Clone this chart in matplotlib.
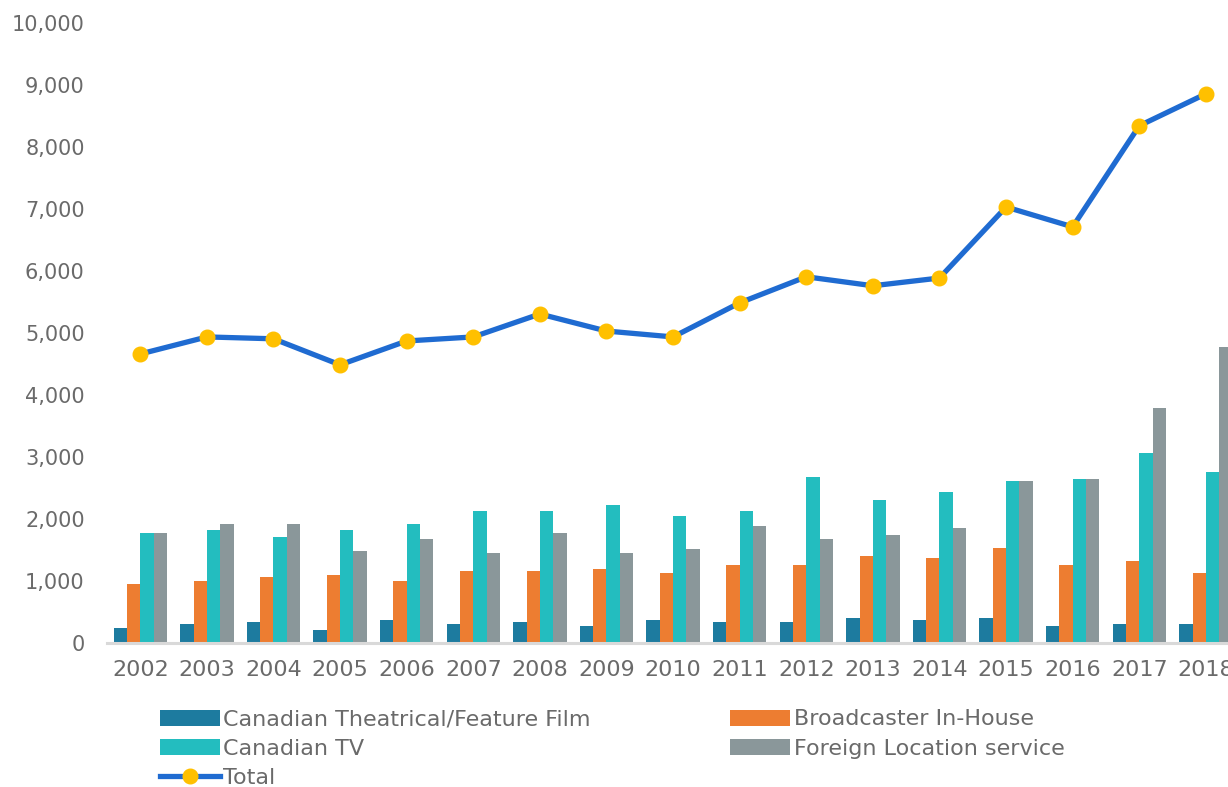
import matplotlib
matplotlib.use("Agg")
import matplotlib.pyplot as plt
import numpy as np

# data
years = ["2002", "2003", "2004", "2005", "2006", "2007", "2008", "2009", "2010",
         "2011", "2012", "2013", "2014", "2015", "2016", "2017", "2018"]
film = [240, 300, 340, 210, 370, 300, 340, 270, 370, 340, 340, 400, 370, 400, 270, 300, 300]
broadcaster = [950, 1000, 1065, 1100, 1000, 1160, 1160, 1195, 1130, 1260, 1260, 1400, 1370, 1530, 1260, 1320, 1130]
canadian_tv = [1775, 1820, 1710, 1820, 1920, 2130, 2130, 2225, 2050, 2130, 2680, 2300, 2435, 2610, 2645, 3065, 2760]
foreign = [1775, 1920, 1920, 1485, 1680, 1450, 1775, 1450, 1515, 1890, 1680, 1740, 1855, 2610, 2645, 3790, 4775]
total = [4660, 4935, 4905, 4485, 4870, 4935, 5305, 5030, 4935, 5485, 5905, 5760, 5885, 7030, 6710, 8340, 8855]

plt.rcParams['font.family'] = ['DejaVu Sans']
txt_color = '#6a6a6a'

fig = plt.figure(figsize=(12.28, 7.87), dpi=100)
ax = fig.add_axes([0.0871, 0.183, 0.922, 0.788])

x = np.arange(len(years))
w = 0.2
series = [
    (film, 'Canadian Theatrical/Feature Film', '#1D7B9F'),
    (broadcaster, 'Broadcaster In-House', '#ED7D31'),
    (canadian_tv, 'Canadian TV', '#23BDBF'),
    (foreign, 'Foreign Location service', '#8A979A'),
]
bars = []
for i, (vals, name, col) in enumerate(series):
    b = ax.bar(x + (i - 1.5) * w, vals, width=w, color=col, label=name, zorder=2)
    bars.append(b)

line, = ax.plot(x, total, color='#1F6BD1', lw=3.8, marker='o', markersize=10.5,
                markerfacecolor='#FFC000', markeredgecolor='#FFC000', label='Total', zorder=3)

ax.set_xlim(-0.5, 16.5)
ax.set_ylim(0, 10000)
ax.set_yticks(np.arange(0, 10001, 1000))
ax.set_yticklabels([f"{v:,}" for v in range(0, 10001, 1000)])
ax.set_xticks(x)
ax.set_xticklabels(years)

for s in ['top', 'right', 'left']:
    ax.spines[s].set_visible(False)
ax.spines['bottom'].set_color('#D9D9D9')
ax.spines['bottom'].set_linewidth(2.2)
ax.spines['bottom'].set_zorder(4)
ax.tick_params(axis='y', length=0, pad=16, labelsize=15, labelcolor=txt_color)
ax.tick_params(axis='x', length=0, pad=12, labelsize=16, labelcolor=txt_color)

handles = [bars[0], bars[2], line, bars[1], bars[3]]
labels = [h.get_label() for h in handles]
leg = fig.legend(handles, labels, loc='upper left', bbox_to_anchor=(0.130, 0.0985),
                 ncol=2, frameon=False, fontsize=16, handlelength=2.7, handleheight=0.72,
                 handletextpad=0.15, columnspacing=6.3, labelspacing=0.42,
                 borderaxespad=0, borderpad=0)
for t in leg.get_texts():
    t.set_color(txt_color)

fig.savefig('out.png', dpi=100)
